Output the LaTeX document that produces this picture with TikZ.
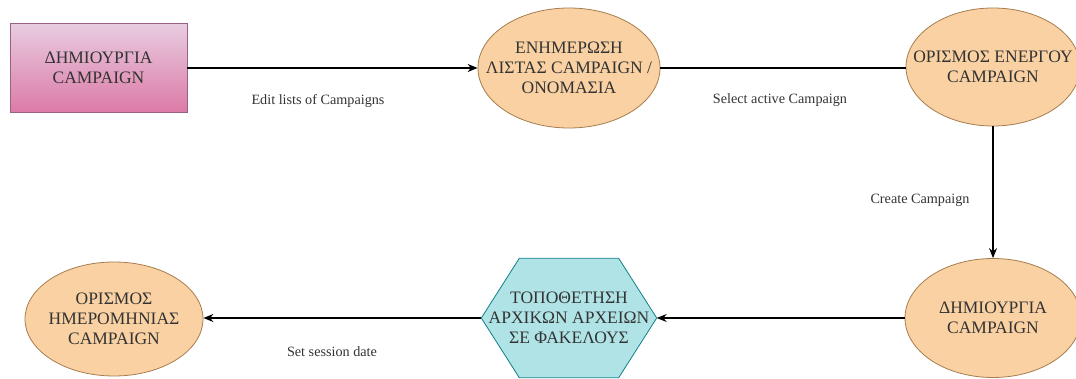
\documentclass[tikz,border=0pt]{standalone}
\usepackage{fontspec}
\setmainfont{Liberation Serif}
\usetikzlibrary{arrows.meta,shapes.geometric,backgrounds,calc}
\definecolor{pinktop}{HTML}{E8CCE0}
\definecolor{pinkbot}{HTML}{DC7AA6}
\definecolor{pinkline}{HTML}{996185}
\definecolor{peach}{HTML}{F9D1A3}
\definecolor{peachline}{HTML}{A57D4E}
\definecolor{cyanfill}{HTML}{B0E3E6}
\definecolor{cyanline}{HTML}{0E8088}
\definecolor{txt}{HTML}{333333}
\begin{document}
\begin{tikzpicture}[x=1pt,y=-1pt,
  nodetext/.style={align=center,text=txt,font=\fontsize{17.5}{20}\selectfont,inner sep=0pt},
  rectbox/.style={nodetext,rectangle,draw=pinkline,line width=0.8pt,top color=pinktop,bottom color=pinkbot,minimum width=177pt,minimum height=89pt},
  ellbox/.style={nodetext,ellipse,inner xsep=-40pt,inner ysep=-20pt,draw=peachline,line width=0.8pt,fill=peach,minimum width=178pt,minimum height=118pt},
  hexbox/.style={nodetext,rectangle,minimum width=175pt,minimum height=119pt},
  hexshape/.style={draw=cyanline,line width=0.8pt,fill=cyanfill},
  conn/.style={draw=black,line width=1.2pt,-{Stealth[length=10pt,width=8pt]}},
  plain/.style={draw=black,line width=1.2pt},
  lab/.style={text=txt,font=\fontsize{14.2}{16}\selectfont,inner sep=1pt}]
\useasboundingbox (0,0) rectangle (1076,379);

\node[rectbox] (r) at (98.5,68) {ΔΗΜΙΟΥΡΓΙΑ\\CAMPAIGN};
\node[ellbox,minimum width=182pt,minimum height=120pt] (e1) at (569,68) {ΕΝΗΜΕΡΩΣΗ\\ΛΙΣΤΑΣ CAMPAIGN /\\ΟΝΟΜΑΣΙΑ};
\node[ellbox,minimum width=174pt] (e2) at (993,67) {ΟΡΙΣΜΟΣ ΕΝΕΡΓΟΥ\\CAMPAIGN};
\node[ellbox,minimum width=176pt,minimum height=119pt] (e3) at (993,318) {ΔΗΜΙΟΥΡΓΙΑ\\CAMPAIGN};
\node[hexbox] (h) at (569,318) {ΤΟΠΟΘΕΤΗΣΗ\\ΑΡΧΙΚΩΝ ΑΡΧΕΙΩΝ\\ΣΕ ΦΑΚΕΛΟΥΣ};
\begin{scope}[on background layer]
\fill[white] (0,0) rectangle (1076,379);
\filldraw[hexshape] (h.west) -- ([xshift=38pt]h.north west) -- ([xshift=-38pt]h.north east) -- (h.east) -- ([xshift=-38pt]h.south east) -- ([xshift=38pt]h.south west) -- cycle;
\end{scope}
\node[ellbox,minimum width=178pt,minimum height=114pt] (e4) at (114,319) {ΟΡΙΣΜΟΣ\\ΗΜΕΡΟΜΗΝΙΑΣ\\CAMPAIGN};

\draw[conn] (r.east) -- (r.east -| e1.west);
\draw[plain] (e1.east) -- (e1.east -| e2.west);
\draw[conn] (e2.south) -- (e3.north);
\draw[conn] (e3.west) -- (h.east);
\draw[conn] (h.west) -- (h.west -| e4.east);

\node[lab] (l1) at (318,101) {Edit lists of Campaigns};
\node[lab] (l2) at (780,100) {Select active Campaign};
\node[lab] (l3) at (920,200) {Create Campaign};
\node[lab] (l4) at (332,352) {Set session date};
\end{tikzpicture}
\end{document}
